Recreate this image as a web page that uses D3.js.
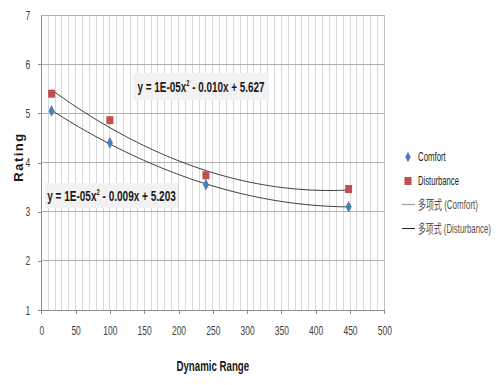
<!DOCTYPE html>
<html><head><meta charset="utf-8">
<script src="https://cdn.jsdelivr.net/npm/d3@7"></script>
<style>body{margin:0;background:#fff}svg{display:block}text{font-family:"Liberation Sans",Arial,sans-serif}</style>
</head><body>
<svg id="c" width="500" height="385"></svg>
<script>
const xTicks = [0,50,100,150,200,250,300,350,400,450,500];
const yTicks = [1,2,3,4,5,6,7];
const comfortX = [15,100,240,448];
const comfortY = [5.05,4.40,3.55,3.10];
const disturbX = [15,100,240,448];
const disturbY = [5.40,4.86,3.74,3.46];
const seriesNames = ["Comfort","Disturbance"];
const trendNames = ["多项式 (Comfort)","多项式 (Disturbance)"];
const eqComfort = ["y = 1E-05x","2"," - 0.009x + 5.203"];
const eqDisturb = ["y = 1E-05x","2"," - 0.010x + 5.627"];

const svg = d3.select("#c");
const x = d3.scaleLinear().domain([0,500]).range([41.3,384.3]);
const y = d3.scaleLinear().domain([1,7]).range([310,15]);

// squeeze a text horizontally to a target width (Calibri-like narrow look)
function squeeze(sel, w, anchorX){
  const n = sel.node(); const bw = n.getBBox().width;
  const k = w / bw;
  sel.attr("transform", `translate(${anchorX},0) scale(${k},1) translate(${-anchorX},0)`);
}

// minor vertical gridlines
svg.append("g").selectAll("line").data(d3.range(10,501,10)).join("line")
  .attr("x1",d=>x(d)).attr("x2",d=>x(d)).attr("y1",y(1)).attr("y2",y(7))
  .attr("stroke",d=>d===500?"#bfbfbf":"#d9d9d9").attr("stroke-width",1).attr("shape-rendering","crispEdges");
// horizontal major gridlines
svg.append("g").selectAll("line").data(yTicks.slice(1)).join("line")
  .attr("x1",x(0)).attr("x2",x(500)).attr("y1",d=>y(d)).attr("y2",d=>y(d))
  .attr("stroke","#b0b0b0").attr("stroke-width",1).attr("shape-rendering","crispEdges");

// axes
const xa = svg.append("g").attr("transform",`translate(0,${y(1)})`)
  .call(d3.axisBottom(x).tickValues(xTicks).tickFormat(d3.format("d")).tickSize(4).tickPadding(12).tickSizeOuter(0));
const ya = svg.append("g").attr("transform",`translate(${x(0)},0)`)
  .call(d3.axisLeft(y).tickValues(yTicks).tickFormat(d3.format("d")).tickSize(3).tickPadding(8).tickSizeOuter(0));
[xa,ya].forEach(a=>{
  a.select(".domain").attr("stroke","#8c8c8c").attr("shape-rendering","crispEdges");
  a.selectAll(".tick line").attr("stroke","#8c8c8c").attr("shape-rendering","crispEdges");
  a.selectAll(".tick text").attr("fill","#404040").style("font-size","12.5px");
});
ya.select(".tick:last-of-type line").remove();
xa.selectAll(".tick text").each(function(){ squeeze(d3.select(this), this.getBBox().width*0.68, 0); });
ya.selectAll(".tick text").each(function(){ squeeze(d3.select(this), this.getBBox().width*0.68, -11); });

// polynomial fit (least squares, order 2)
function fit2(xs,ys){
  const n=xs.length; let S=[0,0,0,0,0], T=[0,0,0];
  for(let i=0;i<n;i++){const xi=xs[i];for(let k=0;k<5;k++)S[k]+=Math.pow(xi,k);for(let k=0;k<3;k++)T[k]+=ys[i]*Math.pow(xi,k);}
  const A=[[S[0],S[1],S[2],T[0]],[S[1],S[2],S[3],T[1]],[S[2],S[3],S[4],T[2]]];
  for(let i=0;i<3;i++){for(let j=i+1;j<3;j++){const f=A[j][i]/A[i][i];for(let k=i;k<4;k++)A[j][k]-=f*A[i][k];}}
  const c=[0,0,0];
  for(let i=2;i>=0;i--){let s=A[i][3];for(let k=i+1;k<3;k++)s-=A[i][k]*c[k];c[i]=s/A[i][i];}
  return xv=>c[0]+c[1]*xv+c[2]*xv*xv;
}
const line = d3.line().x(d=>x(d[0])).y(d=>y(d[1])).curve(d3.curveBasis);
[[comfortX,comfortY],[disturbX,disturbY]].forEach(([xs,ys])=>{
  const f=fit2(xs,ys);
  const pts=d3.range(0,101).map(i=>{const xv=xs[0]+(xs[xs.length-1]-xs[0])*i/100;return [xv,f(xv)];});
  svg.append("path").attr("d",line(pts)).attr("fill","none").attr("stroke","#262626").attr("stroke-width",0.9);
});

// markers
const diamond = d3.symbol().type(d3.symbolDiamond).size(36);
svg.append("g").selectAll("path").data(comfortX.map((d,i)=>[d,comfortY[i]])).join("path")
  .attr("d",diamond).attr("transform",d=>`translate(${x(d[0])},${y(d[1])}) scale(0.85,0.95)`)
  .attr("fill","#4a7ebb").attr("stroke","#3a6aa5").attr("stroke-width",0.5);
svg.append("g").selectAll("rect").data(disturbX.map((d,i)=>[d,disturbY[i]])).join("rect")
  .attr("x",d=>x(d[0])-3.5).attr("y",d=>y(d[1])-4).attr("width",7).attr("height",8)
  .attr("fill","#c0504d");

// equation labels
function eq(parts,x0,y0,w,h,tw){
  const g=svg.append("g");
  g.append("rect").attr("x",x0).attr("y",y0).attr("width",w).attr("height",h).attr("fill","#f2f2f2");
  const t=g.append("text").attr("x",x0+w/2).attr("y",y0+h/2+5.5).attr("text-anchor","middle")
    .attr("fill","#1a1a1a").style("font-size","15.5px").style("font-weight","bold");
  t.append("tspan").text(parts[0]);
  t.append("tspan").text(parts[1]).attr("dy",-6).style("font-size","9px");
  t.append("tspan").text(parts[2]).attr("dy",6);
  squeeze(t, tw, x0+w/2);
}
eq(eqDisturb,133,73,136,27,127);
eq(eqComfort,45,183,133,25,129);

// axis titles
const xt = svg.append("text").attr("x",x(250)).attr("y",371).attr("text-anchor","middle")
  .style("font-size","15.5px").style("font-weight","bold").attr("fill","#1a1a1a").text("Dynamic Range");
squeeze(xt, 73, x(250));
svg.append("text").attr("transform","translate(23,157) rotate(-90)").attr("text-anchor","middle")
  .style("font-size","13px").style("font-weight","bold").attr("fill","#1a1a1a").style("letter-spacing","1.5px").text("Rating");

// legend
const lg = svg.append("g");
lg.append("path").attr("d",diamond).attr("transform","translate(408,157) scale(0.85,0.95)").attr("fill","#4a7ebb");
lg.append("rect").attr("x",404.5).attr("y",177).attr("width",7).attr("height",8).attr("fill","#c0504d");
lg.append("line").attr("x1",402).attr("x2",415).attr("y1",204.5).attr("y2",204.5).attr("stroke","#a0a0a0").attr("stroke-width",1.2);
lg.append("line").attr("x1",402).attr("x2",415).attr("y1",228.5).attr("y2",228.5).attr("stroke","#262626").attr("stroke-width",1);
const legLabels = [seriesNames[0],seriesNames[1],trendNames[0],trendNames[1]];
const legW = [28,41,60,73];
lg.selectAll("text").data(legLabels).join("text")
  .attr("x",418).attr("y",(d,i)=>[157,181,204.5,228.5][i]+4.5)
  .style("font-size","13px").attr("fill",(d,i)=>i<2?"#1a1a1a":"#505050")
  .style("font-family",(d,i)=>i<2?null:'"Liberation Sans","Noto Sans CJK SC",sans-serif')
  .text(d=>d)
  .each(function(d,i){ squeeze(d3.select(this), legW[i], 418); });
</script>
</body></html>
